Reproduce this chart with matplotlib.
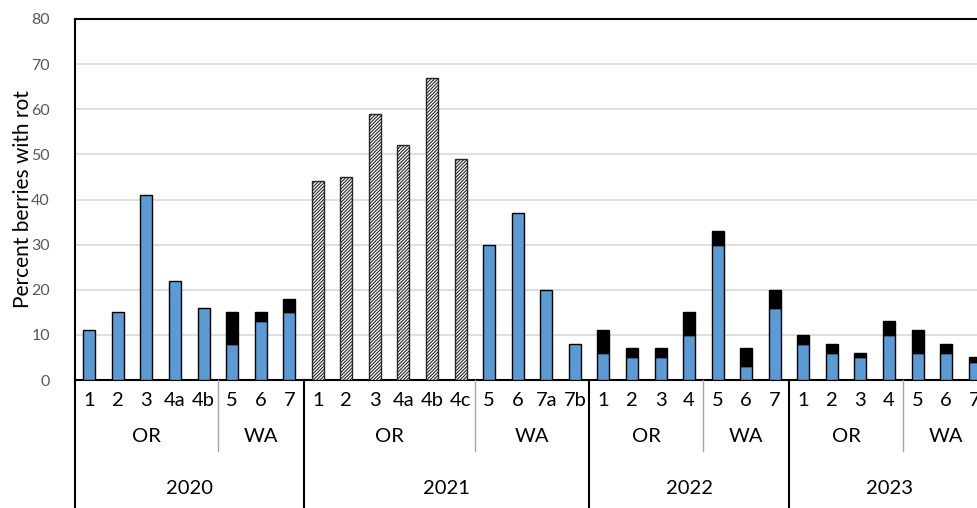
import numpy as np
import matplotlib
matplotlib.use("Agg")
import matplotlib.pyplot as plt
from matplotlib.lines import Line2D
import matplotlib.transforms as mtransforms

plt.rcParams['font.family'] = ['Lato', 'DejaVu Sans']
plt.rcParams['hatch.linewidth'] = 0.8

# Site labels along the x axis, grouped by region then year
sites = ['1', '2', '3', '4a', '4b', '5', '6', '7',
         '1', '2', '3', '4a', '4b', '4c', '5', '6', '7a', '7b',
         '1', '2', '3', '4', '5', '6', '7',
         '1', '2', '3', '4', '5', '6', '7']
years = ['2020', '2021', '2022', '2023']
year_sizes = [8, 10, 7, 7]
regions = ['OR', 'WA']
region_sizes = [[5, 3], [6, 4], [4, 3], [4, 3]]

# Percent berries with rot
blue_rot = [11, 15, 41, 22, 16, 8, 13, 15,
            0, 0, 0, 0, 0, 0, 30, 37, 20, 8,
            6, 5, 5, 10, 30, 3, 16,
            8, 6, 5, 10, 6, 6, 4]
black_rot = [0, 0, 0, 0, 0, 7, 2, 3,
             0, 0, 0, 0, 0, 0, 0, 0, 0, 0,
             5, 2, 2, 5, 3, 4, 4,
             2, 2, 1, 3, 5, 2, 1]
hatched_rot = [0, 0, 0, 0, 0, 0, 0, 0,
               44, 45, 59, 52, 67, 49, 0, 0, 0, 0,
               0, 0, 0, 0, 0, 0, 0,
               0, 0, 0, 0, 0, 0, 0]

W, H = 977, 508
fig = plt.figure(figsize=(W / 100, H / 100), dpi=100)
x0, x1 = 75, 989
y0, y1 = 380, 19
ax = fig.add_axes([x0 / W, (H - y0) / H, (x1 - x0) / W, (y0 - y1) / H])

n = len(sites)
x = np.arange(n) + 0.5
blue_rot = np.array(blue_rot, dtype=float)
black_rot = np.array(black_rot, dtype=float)
hatched_rot = np.array(hatched_rot, dtype=float)
bw = 0.42

m = blue_rot > 0
ax.bar(x[m], blue_rot[m], bw, color='#5B9BD5', edgecolor='black', linewidth=1.0, zorder=3)
m = black_rot > 0
ax.bar(x[m], black_rot[m], bw, bottom=blue_rot[m], color='black', edgecolor='black',
       linewidth=1.0, zorder=3)
m = hatched_rot > 0
ax.bar(x[m], hatched_rot[m], bw, color='white', edgecolor='#262626', hatch='//////////',
       linewidth=1.0, zorder=3)

ax.set_xlim(0, n)
ax.set_ylim(0, 80)
ax.set_yticks(np.arange(0, 81, 10))
ax.set_xticks([])
ax.yaxis.grid(True, color='#D9D9D9', linewidth=1.2, zorder=0)
ax.set_axisbelow(True)
ax.tick_params(axis='y', length=0, pad=18, labelsize=11.5, labelcolor='#595959')
for s in ['left', 'top', 'bottom']:
    ax.spines[s].set_linewidth(1.5)
    ax.spines[s].set_color('black')
ax.spines['right'].set_visible(False)
ax.set_ylabel('Percent berries with rot', fontsize=15)
ax.yaxis.set_label_coords(-0.046, 0.5)

# Multi-level category axis below the plot
trans = mtransforms.blended_transform_factory(ax.transData, fig.transFigure)
fy = lambda py: (H - py) / H
fs = 14.5

for xi, lab in zip(x, sites):
    ax.text(xi, fy(401), lab, transform=trans, ha='center', va='center', fontsize=fs)

start = 0
for yr, ysz, rsz in zip(years, year_sizes, region_sizes):
    pos = start
    for reg, k in zip(regions, rsz):
        ax.text(pos + k / 2, fy(437), reg, transform=trans, ha='center', va='center',
                fontsize=fs)
        pos += k
        if reg == 'OR':
            fig.add_artist(Line2D([pos, pos], [fy(380), fy(451)], transform=trans,
                                  color='#A6A6A6', linewidth=1.0))
    ax.text(start + ysz / 2, fy(488), yr, transform=trans, ha='center', va='center',
            fontsize=fs)
    fig.add_artist(Line2D([start, start], [fy(380), fy(508)], transform=trans,
                          color='black', linewidth=1.5))
    start += ysz

fig.savefig('out.png', dpi=100)
